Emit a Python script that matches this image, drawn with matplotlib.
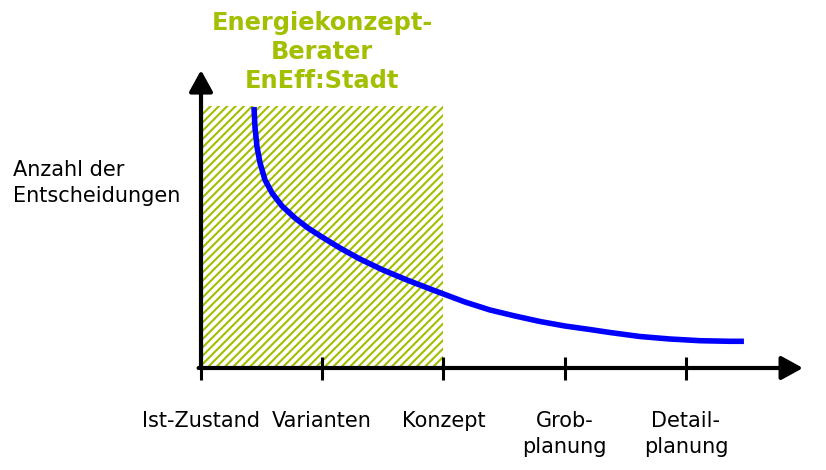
import matplotlib
matplotlib.use("Agg")
import matplotlib.pyplot as plt
from matplotlib.patches import Rectangle

# ---------------------------------------------------------------------------
# Data (x in planning stages, y in arbitrary "number of decisions" units)
# ---------------------------------------------------------------------------
stages = ["Ist-Zustand", "Varianten", "Konzept", "Grob-\nplanung", "Detail-\nplanung"]
stage_pos = [0, 1, 2, 3, 4]

curve_x = [0.437, 0.445, 0.462, 0.487, 0.528, 0.586, 0.668, 0.775, 0.882, 0.998,
           1.146, 1.311, 1.501, 1.699, 1.913, 2.177, 2.384, 2.590, 2.796, 3.002,
           3.208, 3.373, 3.621, 3.868, 4.115, 4.363, 4.478]
curve_y = [9.962, 9.198, 8.435, 7.824, 7.176, 6.679, 6.183, 5.725, 5.344, 5.000,
           4.580, 4.160, 3.740, 3.359, 2.977, 2.519, 2.214, 1.985, 1.775, 1.603,
           1.469, 1.355, 1.202, 1.107, 1.042, 1.019, 1.019]

berater_span = (0, 2)      # Ist-Zustand .. Konzept
berater_height = 10
berater_label = "Energiekonzept-\nBerater\nEnEff:Stadt"
ylabel = "Anzahl der\nEntscheidungen"

GREEN = "#a4bf00"
plt.rcParams["hatch.linewidth"] = 1.5

fig = plt.figure(figsize=(8.26, 4.70), dpi=100)
ax = fig.add_axes([0, 0, 1, 1])
ax.set_xlim(-1.658, 5.155)
ax.set_ylim(-3.893, 14.046)
ax.axis("off")

# hatched consultant area
ax.add_patch(Rectangle((berater_span[0], 0), berater_span[1] - berater_span[0], berater_height,
                       facecolor="white", edgecolor=GREEN, hatch="////", linewidth=0, zorder=1))

# decision curve
ax.plot(curve_x, curve_y, color="#0000ff", lw=4, solid_capstyle="butt",
        solid_joinstyle="round", zorder=3)

# axes with arrows
arrow = dict(arrowstyle="-|>,head_length=1.0,head_width=0.55", lw=3,
             color="black", mutation_scale=13, shrinkA=0, shrinkB=0)
ax.annotate("", xy=(4.965, 0), xytext=(-0.02, 0), arrowprops=arrow, zorder=4)
ax.annotate("", xy=(0, 11.37), xytext=(0, 0.0), arrowprops=arrow, zorder=4)

# tick marks
ax.vlines(stage_pos[0], -0.46, 0, color="black", lw=2.2, zorder=4)
ax.vlines(stage_pos[1:], -0.46, 0.42, color="black", lw=2.2, zorder=4)

for x, lab in zip(stage_pos, stages):
    ax.text(x, -1.64, lab, ha="center", va="top", fontsize=15, linespacing=1.36)

ax.text(-1.55, 7.06, ylabel, ha="left", va="center", fontsize=15, linespacing=1.36)

ax.text(1.0, 12.06, berater_label, ha="center", va="center", fontsize=17.3,
        fontweight="bold", color=GREEN, linespacing=1.25)

fig.savefig("out.png", dpi=100)
